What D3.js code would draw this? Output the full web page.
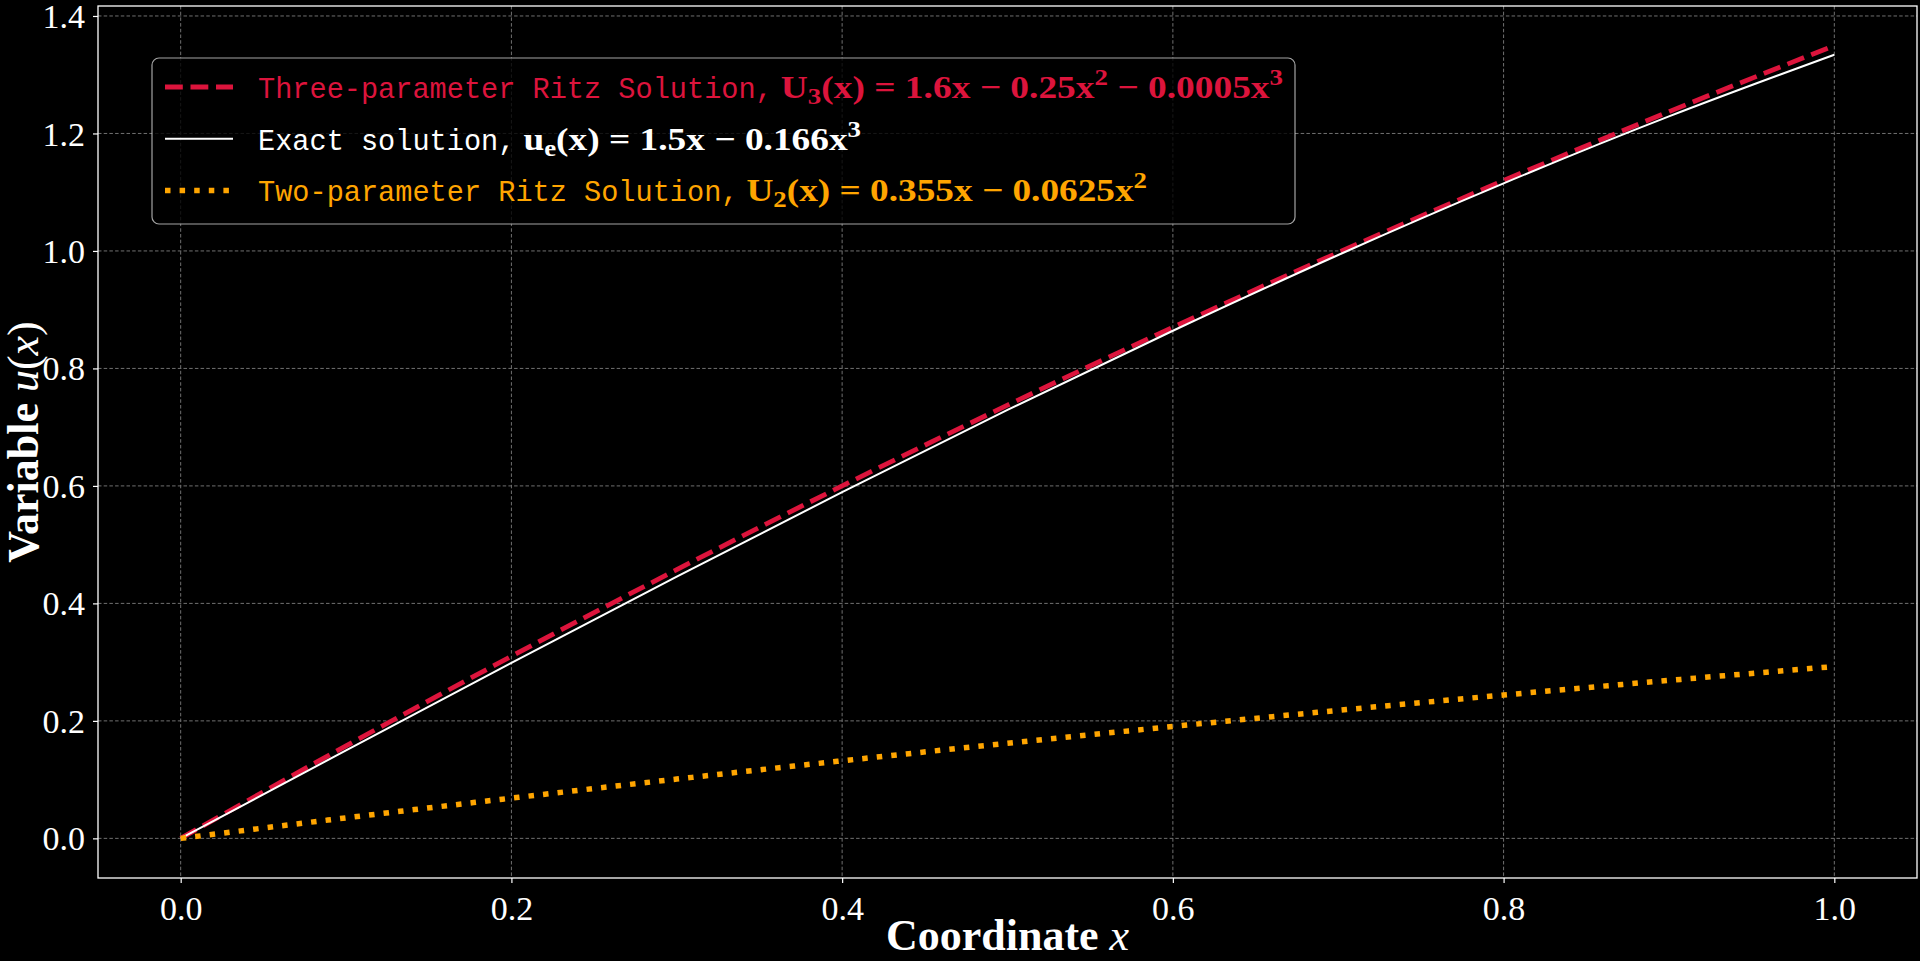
<!DOCTYPE html>
<html lang="en">
  <head>
    <meta charset="utf-8">
    <title>Ritz solutions vs exact solution</title>
    <script src="https://d3js.org/d3.v7.min.js"></script>
    <style>
      body { margin: 0; background: #000; }
      svg { display: block; }
    </style>
  </head>
  <body>
    <svg id="chart" width="1920" height="961"></svg>
    <script type="text/javascript">
      // values (x = 0, 0.1, ..., 1.0)
      var xValues = [0, 0.1, 0.2, 0.3, 0.4, 0.5, 0.6, 0.7, 0.8, 0.9, 1.0];
      var ritz3 = [0, 0.1575, 0.31, 0.4575, 0.6, 0.7374, 0.8699, 0.9973, 1.1197, 1.2371, 1.3495];
      var exact = [0, 0.1498, 0.2987, 0.4455, 0.5894, 0.7293, 0.8641, 0.9931, 1.115, 1.229, 1.334];
      var ritz2 = [0, 0.0349, 0.0685, 0.1009, 0.132, 0.1619, 0.1905, 0.2179, 0.244, 0.2689, 0.2925];

      var xTicks = [0, 0.2, 0.4, 0.6, 0.8, 1.0];
      var yTicks = [0, 0.2, 0.4, 0.6, 0.8, 1.0, 1.2, 1.4];

      var svg = d3.select("svg#chart");
      var pLeft = 98, pTop = 6, pRight = 1917, pBottom = 878;

      var xScale = d3.scaleLinear().domain([-0.05, 1.05]).range([pLeft, pRight]);
      var yScale = d3.scaleLinear().domain([-0.06748, 1.41698]).range([pBottom, pTop]);

      svg.append("rect").attr("width", 1920).attr("height", 961).attr("fill", "#000");

      // grid
      var grid = svg.append("g").attr("id", "grid");
      grid.selectAll("line.gx").data(xTicks).enter().append("line").attr("class", "gx")
        .attr("x1", d => xScale(d)).attr("x2", d => xScale(d)).attr("y1", pTop).attr("y2", pBottom)
        .attr("stroke", "#707070").attr("stroke-width", 1).attr("stroke-dasharray", "3.5,2.2");
      grid.selectAll("line.gy").data(yTicks).enter().append("line").attr("class", "gy")
        .attr("y1", d => yScale(d)).attr("y2", d => yScale(d)).attr("x1", pLeft).attr("x2", pRight)
        .attr("stroke", "#707070").attr("stroke-width", 1).attr("stroke-dasharray", "3.5,2.2");

      // curves
      var series = [
        { name: "ritz3", values: ritz3, color: "#dc143c", width: 4.8, dash: "17.8,7.7" },
        { name: "exact", values: exact, color: "#ffffff", width: 2, dash: null },
        { name: "ritz2", values: ritz2, color: "#ffa500", width: 5.5, dash: "5.5,9.1" }
      ];
      var line = d3.line().x(d => xScale(d[0])).y(d => yScale(d[1])).curve(d3.curveMonotoneX);
      svg.append("g").attr("id", "curves").selectAll("path").data(series).enter().append("path")
        .attr("d", s => line(xValues.map((x, i) => [x, s.values[i]])))
        .attr("fill", "none").attr("stroke", s => s.color).attr("stroke-width", s => s.width)
        .attr("stroke-dasharray", s => s.dash).attr("stroke-linecap", "butt");

      // axes
      var xAxis = d3.axisBottom(xScale).tickValues(xTicks).tickFormat(d3.format(".1f")).tickSizeOuter(0).tickSize(5).tickPadding(6);
      var yAxis = d3.axisLeft(yScale).tickValues(yTicks).tickFormat(d3.format(".1f")).tickSizeOuter(0).tickSize(5).tickPadding(8);
      var gx = svg.append("g").attr("transform", "translate(0," + pBottom + ")").call(xAxis);
      var gy = svg.append("g").attr("transform", "translate(" + pLeft + ",0)").call(yAxis);
      [gx, gy].forEach(function (g) {
        g.select(".domain").remove();
        g.selectAll(".tick line").attr("stroke", "#fff").attr("stroke-width", 1.2);
        g.selectAll(".tick text").attr("fill", "#fff").style("font", "34px 'Liberation Serif'");
      });
      gy.selectAll(".tick text").attr("dy", "0.34em");
      gx.selectAll(".tick text").attr("dy", "0.9em");

      svg.append("rect").attr("x", pLeft).attr("y", pTop).attr("width", pRight - pLeft).attr("height", pBottom - pTop)
        .attr("fill", "none").attr("stroke", "#fff").attr("stroke-width", 1.3);

      // axis labels
      var xl = svg.append("text").attr("x", (pLeft + pRight) / 2).attr("y", 950).attr("text-anchor", "middle")
        .attr("fill", "#fff").style("font", "bold 44px 'Liberation Serif'");
      xl.append("tspan").text("Coordinate ");
      xl.append("tspan").style("font-weight", "normal").style("font-style", "italic").text("x");

      var yl = svg.append("text").attr("transform", "translate(38," + (pTop + pBottom) / 2 + ") rotate(-90)")
        .attr("text-anchor", "middle").attr("fill", "#fff").style("font", "bold 44px 'Liberation Serif'");
      yl.append("tspan").text("Variable ");
      yl.append("tspan").style("font-weight", "normal").style("font-style", "italic").text("u");
      yl.append("tspan").style("font-weight", "normal").text("(");
      yl.append("tspan").style("font-weight", "normal").style("font-style", "italic").text("x");
      yl.append("tspan").style("font-weight", "normal").text(")");

      // legend
      var legendLabels = ["Three-parameter Ritz Solution,", "Exact solution,", "Two-parameter Ritz Solution,"];
      var legendMath = [
        [["U", ""], ["3", "sub"], ["(x) = 1.6x \u2212 0.25x", ""], ["2", "sup"], [" \u2212 0.0005x", ""], ["3", "sup"]],
        [["u", ""], ["e", "sub"], ["(x) = 1.5x \u2212 0.166x", ""], ["3", "sup"]],
        [["U", ""], ["2", "sub"], ["(x) = 0.355x \u2212 0.0625x", ""], ["2", "sup"]]
      ];
      var legendMathEnd = [1283, 861, 1147];

      var lg = svg.append("g").attr("id", "legend");
      lg.append("rect").attr("x", 152).attr("y", 58).attr("width", 1143).attr("height", 166)
        .attr("rx", 7).attr("fill", "#000").attr("fill-opacity", 0.8)
        .attr("stroke", "#cccccc").attr("stroke-opacity", 0.8).attr("stroke-width", 1.2);

      series.forEach(function (s, i) {
        var cy = 87 + i * 51.7;
        lg.append("line").attr("x1", 165).attr("x2", 233).attr("y1", cy).attr("y2", cy)
          .attr("stroke", s.color).attr("stroke-width", s.width)
          .attr("stroke-dasharray", s.dash).attr("stroke-linecap", "butt");
        var t = lg.append("text").attr("x", 258).attr("y", cy + 11).attr("fill", s.color)
          .style("font", "28.6px 'Liberation Mono'").text(legendLabels[i]);
        var mx = 258 + t.node().getComputedTextLength() + 8;
        var m = lg.append("text").attr("x", mx).attr("y", cy + 11).attr("fill", s.color)
          .style("font", "bold 32px 'Liberation Serif'")
          .attr("textLength", legendMathEnd[i] - mx).attr("lengthAdjust", "spacingAndGlyphs");
        legendMath[i].forEach(function (p) {
          var ts = m.append("tspan").text(p[0]);
          if (p[1] === "sub") ts.attr("baseline-shift", -6).style("font-size", "23px");
          if (p[1] === "sup") ts.attr("baseline-shift", 13).style("font-size", "23px");
        });
      });
    </script>
  </body>
</html>
